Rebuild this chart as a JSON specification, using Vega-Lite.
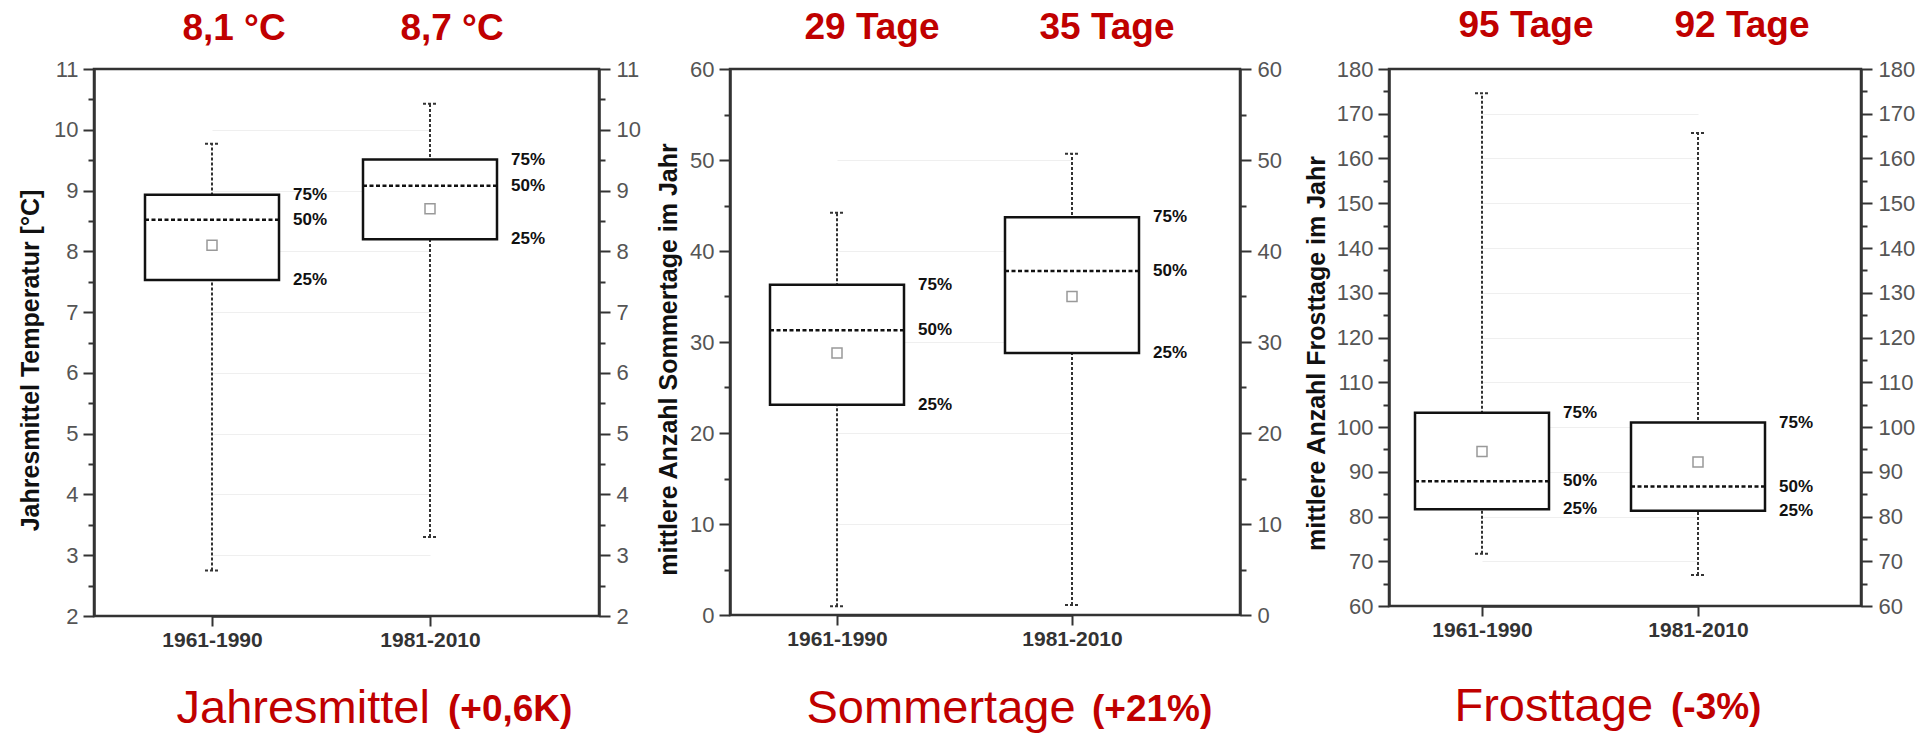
{
  "$schema": "https://vega.github.io/schema/vega-lite/v6.json",
  "background": "white",
  "padding": {"left": 16, "top": 5, "right": 0, "bottom": 0},
  "datasets": {
    "temp": [
      {"period": "1961-1990", "min": 2.75, "25%": 7.53, "50%": 8.52, "75%": 8.93, "max": 9.77, "mean": 8.1, "top": "8,1 °C"},
      {"period": "1981-2010", "min": 3.3, "25%": 8.2, "50%": 9.08, "75%": 9.51, "max": 10.43, "mean": 8.7, "top": "8,7 °C"}
    ],
    "sommer": [
      {"period": "1961-1990", "min": 0.95, "25%": 23.1, "50%": 31.3, "75%": 36.3, "max": 44.2, "mean": 28.8, "top": "29 Tage"},
      {"period": "1981-2010", "min": 1.1, "25%": 28.8, "50%": 37.8, "75%": 43.7, "max": 50.7, "mean": 35.0, "top": "35 Tage"}
    ],
    "frost": [
      {"period": "1961-1990", "min": 71.7, "25%": 81.6, "50%": 87.9, "75%": 103.2, "max": 174.6, "mean": 94.5, "top": "95 Tage"},
      {"period": "1981-2010", "min": 66.9, "25%": 81.3, "50%": 86.7, "75%": 101.0, "max": 165.7, "mean": 92.2, "top": "92 Tage"}
    ]
  },
  "config": {
    "view": {"stroke": "#333", "strokeWidth": 2.5, "fill": "white"},
    "axis": {
      "labelFont": "Liberation Sans Narrow, Liberation Sans",
      "labelFontSize": 22,
      "labelColor": "#555",
      "tickColor": "#333",
      "tickWidth": 2,
      "domainColor": "#333",
      "domainWidth": 2.5,
      "titleFont": "Liberation Sans",
      "titleFontWeight": "bold",
      "titleFontSize": 25,
      "titleColor": "#111",
      "gridColor": "#efefef",
      "gridWidth": 1
    }
  },
  "hconcat": [
    {
      "align": "none",
      "bounds": "full",
      "spacing": 12,
      "hconcat": [
        {
          "width": 505,
          "height": 547,
          "data": {"name": "temp"},
          "title": {"text": "(+0,6K)", "orient": "bottom", "anchor": "start", "frame": "group", "dx": 354, "offset": 0, "dy": -10, "baseline": "alphabetic", "font": "Liberation Sans", "fontSize": 37, "fontWeight": "bold", "color": "#C00000"},
          "encoding": {
            "x": {"field": "period", "type": "nominal", "scale": {"type": "point", "range": [118, 336], "padding": 0},
              "axis": {"orient": "bottom", "labelAngle": 0, "tickSize": 10, "labelPadding": 3, "labelColor": "#333", "labelFontWeight": "bold", "labelFontSize": 21,
                "title": "Jahresmittel", "titleFont": "Liberation Sans", "titleFontWeight": "normal", "titleFontSize": 47, "titleColor": "#C00000", "titleX": 82, "titleY": 106, "titleAlign": "left", "titleBaseline": "alphabetic"}}
          },
          "resolve": {"axis": {"y": "independent"}},
          "layer": [
            {"mark": {"type": "rule", "strokeDash": [3, 2], "strokeWidth": 2, "color": "#333"},
              "encoding": {
                "y": {"field": "min", "type": "quantitative", "scale": {"domain": [2, 11], "nice": false},
                  "axis": {"orient": "left", "values": [2, 2.5, 3, 3.5, 4, 4.5, 5, 5.5, 6, 6.5, 7, 7.5, 8, 8.5, 9, 9.5, 10, 10.5, 11],
                    "labelExpr": "datum.value % 1 === 0 ? format(datum.value, 'd') : ''",
                    "tickSize": {"condition": {"test": "datum.value % 1 === 0", "value": 11}, "value": 6},
                    "grid": true, "gridOpacity": {"condition": {"test": "datum.value % 1 === 0 && datum.value > 2 && datum.value < 11", "value": 1}, "value": 0},
                    "labelPadding": 5,
                    "title": "Jahresmittel Temperatur [°C]", "titleX": -56, "titleY": 291, "titleAlign": "center", "titleBaseline": "alphabetic"}},
                "y2": {"field": "max"}}},
            {"mark": {"type": "rule", "xOffset": -7, "x2Offset": 7, "strokeDash": [3, 2], "strokeWidth": 2, "color": "#333"},
              "encoding": {"x2": {"field": "period"}, "y": {"field": "max", "type": "quantitative", "scale": {"domain": [2, 11], "nice": false}, "axis": null}}},
            {"mark": {"type": "rule", "xOffset": -7, "x2Offset": 7, "strokeDash": [3, 2], "strokeWidth": 2, "color": "#333"},
              "encoding": {"x2": {"field": "period"}, "y": {"field": "min", "type": "quantitative", "scale": {"domain": [2, 11], "nice": false}, "axis": null}}},
            {"mark": {"type": "bar", "size": 134, "fill": "white", "stroke": "#111", "strokeWidth": 2.5},
              "encoding": {"y": {"field": "75%", "type": "quantitative", "scale": {"domain": [2, 11], "nice": false}, "axis": null}, "y2": {"field": "25%"}}},
            {"mark": {"type": "rule", "xOffset": -67, "x2Offset": 67, "strokeDash": [4, 2.5], "strokeWidth": 2.5, "color": "#111"},
              "encoding": {"x2": {"field": "period"}, "y": {"field": "50%", "type": "quantitative", "scale": {"domain": [2, 11], "nice": false}, "axis": null}}},
            {"mark": {"type": "point", "shape": "square", "size": 100, "filled": false, "stroke": "#999", "strokeWidth": 1.5, "opacity": 1},
              "encoding": {"y": {"field": "mean", "type": "quantitative", "scale": {"domain": [2, 11], "nice": false},
                "axis": {"orient": "right", "values": [2, 2.5, 3, 3.5, 4, 4.5, 5, 5.5, 6, 6.5, 7, 7.5, 8, 8.5, 9, 9.5, 10, 10.5, 11],
                  "labelExpr": "datum.value % 1 === 0 ? format(datum.value, 'd') : ''",
                  "tickSize": {"condition": {"test": "datum.value % 1 === 0", "value": 11}, "value": 6},
                  "grid": false, "labelPadding": 6, "title": null}}}},
            {"transform": [{"fold": ["75%", "50%", "25%"], "as": ["pct", "val"]}],
              "mark": {"type": "text", "align": "left", "baseline": "middle", "dx": 81, "font": "Liberation Sans", "fontSize": 17, "fontWeight": "bold", "color": "#111"},
              "encoding": {"y": {"field": "val", "type": "quantitative", "scale": {"domain": [2, 11], "nice": false}, "axis": null}, "text": {"field": "pct"}}},
            {"mark": {"type": "text", "align": "center", "baseline": "alphabetic", "dx": 22, "dy": -29, "font": "Liberation Sans", "fontSize": 37, "fontWeight": "bold", "color": "#C00000"},
              "encoding": {"y": {"datum": 11, "type": "quantitative", "scale": {"domain": [2, 11], "nice": false}, "axis": null}, "text": {"field": "top"}}}
          ]
        },
        {
          "width": 510,
          "height": 546,
          "data": {"name": "sommer"},
          "title": {"text": "(+21%)", "orient": "bottom", "anchor": "start", "frame": "group", "dx": 362, "offset": 0, "dy": -10, "baseline": "alphabetic", "font": "Liberation Sans", "fontSize": 37, "fontWeight": "bold", "color": "#C00000"},
          "encoding": {
            "x": {"field": "period", "type": "nominal", "scale": {"type": "point", "range": [107, 342], "padding": 0},
              "axis": {"orient": "bottom", "labelAngle": 0, "tickSize": 10, "labelPadding": 3, "labelColor": "#333", "labelFontWeight": "bold", "labelFontSize": 21,
                "title": "Sommertage", "titleFont": "Liberation Sans", "titleFontWeight": "normal", "titleFontSize": 47, "titleColor": "#C00000", "titleX": 76, "titleY": 107, "titleAlign": "left", "titleBaseline": "alphabetic"}}
          },
          "resolve": {"axis": {"y": "independent"}},
          "layer": [
            {"mark": {"type": "rule", "strokeDash": [3, 2], "strokeWidth": 2, "color": "#333"},
              "encoding": {
                "y": {"field": "min", "type": "quantitative", "scale": {"domain": [0, 60], "nice": false},
                  "axis": {"orient": "left", "values": [0, 5, 10, 15, 20, 25, 30, 35, 40, 45, 50, 55, 60],
                    "labelExpr": "datum.value % 10 === 0 ? datum.label : ''",
                    "tickSize": {"condition": {"test": "datum.value % 10 === 0", "value": 11}, "value": 6},
                    "grid": true, "gridOpacity": {"condition": {"test": "datum.value % 10 === 0 && datum.value > 0 && datum.value < 60", "value": 1}, "value": 0},
                    "labelPadding": 5,
                    "title": "mittlere Anzahl Sommertage im Jahr", "titleX": -54, "titleY": 290, "titleAlign": "center", "titleBaseline": "alphabetic"}},
                "y2": {"field": "max"}}},
            {"mark": {"type": "rule", "xOffset": -7, "x2Offset": 7, "strokeDash": [3, 2], "strokeWidth": 2, "color": "#333"},
              "encoding": {"x2": {"field": "period"}, "y": {"field": "max", "type": "quantitative", "scale": {"domain": [0, 60], "nice": false}, "axis": null}}},
            {"mark": {"type": "rule", "xOffset": -7, "x2Offset": 7, "strokeDash": [3, 2], "strokeWidth": 2, "color": "#333"},
              "encoding": {"x2": {"field": "period"}, "y": {"field": "min", "type": "quantitative", "scale": {"domain": [0, 60], "nice": false}, "axis": null}}},
            {"mark": {"type": "bar", "size": 134, "fill": "white", "stroke": "#111", "strokeWidth": 2.5},
              "encoding": {"y": {"field": "75%", "type": "quantitative", "scale": {"domain": [0, 60], "nice": false}, "axis": null}, "y2": {"field": "25%"}}},
            {"mark": {"type": "rule", "xOffset": -67, "x2Offset": 67, "strokeDash": [4, 2.5], "strokeWidth": 2.5, "color": "#111"},
              "encoding": {"x2": {"field": "period"}, "y": {"field": "50%", "type": "quantitative", "scale": {"domain": [0, 60], "nice": false}, "axis": null}}},
            {"mark": {"type": "point", "shape": "square", "size": 100, "filled": false, "stroke": "#999", "strokeWidth": 1.5, "opacity": 1},
              "encoding": {"y": {"field": "mean", "type": "quantitative", "scale": {"domain": [0, 60], "nice": false},
                "axis": {"orient": "right", "values": [0, 5, 10, 15, 20, 25, 30, 35, 40, 45, 50, 55, 60],
                  "labelExpr": "datum.value % 10 === 0 ? datum.label : ''",
                  "tickSize": {"condition": {"test": "datum.value % 10 === 0", "value": 11}, "value": 6},
                  "grid": false, "labelPadding": 6, "title": null}}}},
            {"transform": [{"fold": ["75%", "50%", "25%"], "as": ["pct", "val"]}],
              "mark": {"type": "text", "align": "left", "baseline": "middle", "dx": 81, "font": "Liberation Sans", "fontSize": 17, "fontWeight": "bold", "color": "#111"},
              "encoding": {"y": {"field": "val", "type": "quantitative", "scale": {"domain": [0, 60], "nice": false}, "axis": null}, "text": {"field": "pct"}}},
            {"mark": {"type": "text", "align": "center", "baseline": "alphabetic", "dx": 35, "dy": -30, "font": "Liberation Sans", "fontSize": 37, "fontWeight": "bold", "color": "#C00000"},
              "encoding": {"y": {"datum": 60, "type": "quantitative", "scale": {"domain": [0, 60], "nice": false}, "axis": null}, "text": {"field": "top"}}}
          ]
        }
      ]
    },
    {
      "width": 472,
      "height": 537,
      "data": {"name": "frost"},
      "title": {"text": "(-3%)", "orient": "bottom", "anchor": "start", "frame": "group", "dx": 282, "offset": 0, "dy": -10, "baseline": "alphabetic", "font": "Liberation Sans", "fontSize": 37, "fontWeight": "bold", "color": "#C00000"},
      "encoding": {
        "x": {"field": "period", "type": "nominal", "scale": {"type": "point", "range": [93, 309], "padding": 0},
          "axis": {"orient": "bottom", "labelAngle": 0, "tickSize": 10, "labelPadding": 3, "labelColor": "#333", "labelFontWeight": "bold", "labelFontSize": 21,
            "title": "Frosttage", "titleFont": "Liberation Sans", "titleFontWeight": "normal", "titleFontSize": 47, "titleColor": "#C00000", "titleX": 65, "titleY": 114, "titleAlign": "left", "titleBaseline": "alphabetic"}}
      },
      "resolve": {"axis": {"y": "independent"}},
      "layer": [
        {"mark": {"type": "rule", "strokeDash": [3, 2], "strokeWidth": 2, "color": "#333"},
          "encoding": {
            "y": {"field": "min", "type": "quantitative", "scale": {"domain": [60, 180], "nice": false},
              "axis": {"orient": "left", "values": [60, 65, 70, 75, 80, 85, 90, 95, 100, 105, 110, 115, 120, 125, 130, 135, 140, 145, 150, 155, 160, 165, 170, 175, 180],
                "labelExpr": "datum.value % 10 === 0 ? datum.label : ''",
                "tickSize": {"condition": {"test": "datum.value % 10 === 0", "value": 11}, "value": 6},
                "grid": true, "gridOpacity": {"condition": {"test": "datum.value % 10 === 0 && datum.value > 60 && datum.value < 180", "value": 1}, "value": 0},
                "labelPadding": 5,
                "title": "mittlere Anzahl Frosttage im Jahr", "titleX": -65, "titleY": 284, "titleAlign": "center", "titleBaseline": "alphabetic"}},
            "y2": {"field": "max"}}},
        {"mark": {"type": "rule", "xOffset": -7, "x2Offset": 7, "strokeDash": [3, 2], "strokeWidth": 2, "color": "#333"},
          "encoding": {"x2": {"field": "period"}, "y": {"field": "max", "type": "quantitative", "scale": {"domain": [60, 180], "nice": false}, "axis": null}}},
        {"mark": {"type": "rule", "xOffset": -7, "x2Offset": 7, "strokeDash": [3, 2], "strokeWidth": 2, "color": "#333"},
          "encoding": {"x2": {"field": "period"}, "y": {"field": "min", "type": "quantitative", "scale": {"domain": [60, 180], "nice": false}, "axis": null}}},
        {"mark": {"type": "bar", "size": 134, "fill": "white", "stroke": "#111", "strokeWidth": 2.5},
          "encoding": {"y": {"field": "75%", "type": "quantitative", "scale": {"domain": [60, 180], "nice": false}, "axis": null}, "y2": {"field": "25%"}}},
        {"mark": {"type": "rule", "xOffset": -67, "x2Offset": 67, "strokeDash": [4, 2.5], "strokeWidth": 2.5, "color": "#111"},
          "encoding": {"x2": {"field": "period"}, "y": {"field": "50%", "type": "quantitative", "scale": {"domain": [60, 180], "nice": false}, "axis": null}}},
        {"mark": {"type": "point", "shape": "square", "size": 100, "filled": false, "stroke": "#999", "strokeWidth": 1.5, "opacity": 1},
          "encoding": {"y": {"field": "mean", "type": "quantitative", "scale": {"domain": [60, 180], "nice": false},
            "axis": {"orient": "right", "values": [60, 65, 70, 75, 80, 85, 90, 95, 100, 105, 110, 115, 120, 125, 130, 135, 140, 145, 150, 155, 160, 165, 170, 175, 180],
              "labelExpr": "datum.value % 10 === 0 ? datum.label : ''",
              "tickSize": {"condition": {"test": "datum.value % 10 === 0", "value": 11}, "value": 6},
              "grid": false, "labelPadding": 6, "title": null}}}},
        {"transform": [{"fold": ["75%", "50%", "25%"], "as": ["pct", "val"]}],
          "mark": {"type": "text", "align": "left", "baseline": "middle", "dx": 81, "font": "Liberation Sans", "fontSize": 17, "fontWeight": "bold", "color": "#111"},
          "encoding": {"y": {"field": "val", "type": "quantitative", "scale": {"domain": [60, 180], "nice": false}, "axis": null}, "text": {"field": "pct"}}},
        {"mark": {"type": "text", "align": "center", "baseline": "alphabetic", "dx": 44, "dy": -32, "font": "Liberation Sans", "fontSize": 37, "fontWeight": "bold", "color": "#C00000"},
          "encoding": {"y": {"datum": 180, "type": "quantitative", "scale": {"domain": [60, 180], "nice": false}, "axis": null}, "text": {"field": "top"}}}
      ]
    }
  ],
  "spacing": 19,
  "align": "none",
  "bounds": "full"
}
